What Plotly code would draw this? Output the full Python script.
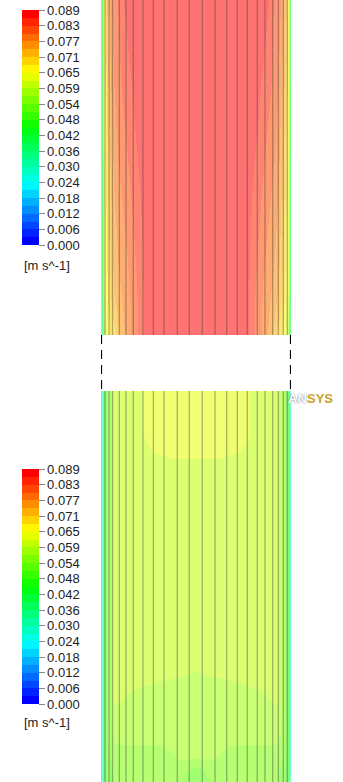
import colorsys
import plotly.graph_objects as go

# ---------------- data ----------------
VMAX = 0.0892  # legend maximum [m s^-1]
TICK_LABELS = ["0.000", "0.006", "0.012", "0.018", "0.024", "0.030", "0.036", "0.042",
               "0.048", "0.054", "0.059", "0.065", "0.071", "0.077", "0.083", "0.089"]
UNIT_LABEL = "[m s^-1]"

# normalized distance from the wall (0 = wall, 1 = pipe axis)
WALL_DIST = [0, 0.016, 0.032, 0.053, 0.074, 0.105, 0.137, 0.179, 0.232, 0.295,
             0.368, 0.453, 0.547, 0.653, 0.758, 0.874, 1.0]

# upper section: axial position (1 = top of view) and half-profiles wall -> axis
TOP_Y = [0.0, 0.134, 0.642, 1.0]
TOP_PROFILES = [
    [0.030, 0.048, 0.058, 0.064, 0.067, 0.069, 0.0705, 0.0735, 0.0765, 0.0795, 0.0825, 0.0865, 0.088, 0.0888, 0.089, 0.089, 0.089],
    [0.032, 0.052, 0.063, 0.067, 0.069, 0.072, 0.0745, 0.0765, 0.078, 0.080, 0.0828, 0.0866, 0.0882, 0.0888, 0.089, 0.089, 0.089],
    [0.034, 0.054, 0.066, 0.070, 0.0735, 0.0765, 0.0795, 0.0815, 0.083, 0.0848, 0.0868, 0.088, 0.0887, 0.089, 0.089, 0.089, 0.089],
    [0.036, 0.056, 0.067, 0.073, 0.0765, 0.080, 0.0825, 0.0835, 0.0862, 0.0878, 0.0885, 0.0888, 0.089, 0.089, 0.089, 0.089, 0.089],
]

# lower section
BOT_Y = [0.0, 0.031, 0.069, 0.120, 0.210, 0.286, 0.338, 0.453, 0.568, 0.721, 0.798, 0.862, 0.900, 1.0]
BOT_PROFILES = [
    [0.018, 0.038, 0.046, 0.050, 0.052, 0.053, 0.0535, 0.054, 0.054, 0.054, 0.054, 0.054, 0.054, 0.054, 0.0545, 0.053, 0.050],
    [0.018, 0.038, 0.046, 0.050, 0.052, 0.053, 0.054, 0.0545, 0.0545, 0.0545, 0.0545, 0.0545, 0.0545, 0.0545, 0.0555, 0.0545, 0.052],
    [0.018, 0.038, 0.046, 0.051, 0.053, 0.054, 0.0545, 0.0548, 0.0548, 0.0548, 0.0548, 0.0548, 0.0548, 0.0552, 0.0565, 0.0575, 0.0578],
    [0.018, 0.038, 0.046, 0.051, 0.054, 0.056, 0.0575, 0.058, 0.058, 0.058, 0.058, 0.058, 0.058, 0.058, 0.058, 0.058, 0.058],
    [0.018, 0.038, 0.046, 0.051, 0.054, 0.057, 0.0597, 0.0597, 0.0594, 0.059, 0.0585, 0.0583, 0.0582, 0.0581, 0.058, 0.058, 0.058],
    [0.018, 0.038, 0.046, 0.051, 0.054, 0.057, 0.0595, 0.0605, 0.061, 0.061, 0.061, 0.0607, 0.0605, 0.0602, 0.060, 0.0598, 0.0595],
    [0.018, 0.038, 0.046, 0.051, 0.054, 0.057, 0.0595, 0.0605, 0.061, 0.061, 0.061, 0.061, 0.061, 0.061, 0.061, 0.061, 0.061],
    [0.018, 0.038, 0.046, 0.051, 0.054, 0.057, 0.0595, 0.0605, 0.061, 0.061, 0.0612, 0.0613, 0.0613, 0.0613, 0.0613, 0.0613, 0.0613],
    [0.018, 0.038, 0.046, 0.051, 0.054, 0.057, 0.0595, 0.0605, 0.061, 0.061, 0.0612, 0.0615, 0.0616, 0.0616, 0.0616, 0.0616, 0.0616],
    [0.018, 0.038, 0.046, 0.051, 0.054, 0.057, 0.0595, 0.0605, 0.061, 0.061, 0.0612, 0.0615, 0.0616, 0.0616, 0.0616, 0.0616, 0.0616],
    [0.018, 0.038, 0.046, 0.051, 0.054, 0.057, 0.0595, 0.0605, 0.061, 0.061, 0.0612, 0.0615, 0.0616, 0.0617, 0.0618, 0.0618, 0.0618],
    [0.018, 0.038, 0.046, 0.051, 0.054, 0.057, 0.0595, 0.0605, 0.061, 0.061, 0.0613, 0.0622, 0.0628, 0.063, 0.0632, 0.0632, 0.0632],
    [0.018, 0.038, 0.046, 0.051, 0.054, 0.057, 0.0595, 0.0605, 0.061, 0.061, 0.0615, 0.0627, 0.0632, 0.0635, 0.0638, 0.0638, 0.0638],
    [0.018, 0.038, 0.046, 0.051, 0.054, 0.057, 0.0595, 0.0605, 0.061, 0.061, 0.0615, 0.0627, 0.0632, 0.0635, 0.0638, 0.0638, 0.0638],
]

# streamline radial positions (normalized, -1 = left wall, 1 = right wall)
STREAMLINES = [-0.958, -0.915, -0.879, -0.807, -0.737, -0.660, -0.558, -0.449, -0.337, -0.197, -0.071,
               0.066, 0.200, 0.323, 0.435, 0.540, 0.645, 0.726, 0.807, 0.867, 0.919, 0.961]

# ---------------- build ----------------
W, H = 343, 782
FONT = "Arial, Liberation Sans, sans-serif"

x_left = [-1 + d for d in WALL_DIST]
x_grid = x_left + [1 - d for d in reversed(WALL_DIST[:-1])]


def full_row(half):
    return list(half) + list(reversed(half[:-1]))


z_top = [full_row(r) for r in TOP_PROFILES]
z_bot = [full_row(r) for r in BOT_PROFILES]

NB = 30
cscale = []
for k in range(NB):
    h = (240 * (1 - k / (NB - 1))) / 360
    r, g, b = colorsys.hsv_to_rgb(h, 1, 1)
    c = f"rgb({round(r*255)},{round(g*255)},{round(b*255)})"
    cscale.append([k / NB, c])
    cscale.append([(k + 1) / NB, c])

tickvals = [i * VMAX / 15 for i in range(16)]

x_dom = [101 / W, 291 / W]
top_dom = [1 - 335 / H, 1.0]
bot_dom = [0.0, 1 - 391 / H]


def cbar(top_px):
    return dict(
        thickness=17, thicknessmode="pixels", len=235, lenmode="pixels",
        x=22 / W, xanchor="left", y=1 - top_px / H, yanchor="top",
        xpad=0, ypad=0, outlinewidth=0,
        tickmode="array", tickvals=tickvals, ticktext=TICK_LABELS,
        ticks="outside", ticklen=6, tickcolor="#888", tickwidth=1,
        tickfont=dict(family=FONT, size=13, color="#222"),
    )


OPAC = 0.55
fig = go.Figure()
fig.add_trace(go.Heatmap(
    x=x_grid, y=TOP_Y, z=z_top, zmin=0, zmax=VMAX, colorscale=cscale,
    zsmooth="best", opacity=OPAC, colorbar=cbar(10), xaxis="x", yaxis="y",
    hoverinfo="skip",
))
fig.add_trace(go.Heatmap(
    x=x_grid, y=BOT_Y, z=z_bot, zmin=0, zmax=VMAX, colorscale=cscale,
    zsmooth="best", opacity=OPAC, colorbar=cbar(469), xaxis="x2", yaxis="y2",
    hoverinfo="skip",
))

for xa, ya in (("x", "y"), ("x2", "y2")):
    xs, ys = [], []
    for s in STREAMLINES:
        xs += [s, s, None]
        ys += [0, 1, None]
    fig.add_trace(go.Scatter(
        x=xs, y=ys, mode="lines", xaxis=xa, yaxis=ya, hoverinfo="skip",
        line=dict(color="rgba(60,60,60,0.4)", width=1.3), showlegend=False,
    ))

ax = dict(visible=False, range=[-1, 1], fixedrange=True)
ay = dict(visible=False, range=[0, 1], fixedrange=True)

shapes = []
for xw in (-1, 1):
    shapes.append(dict(
        type="line", xref="x", yref="paper", x0=xw, x1=xw,
        y0=top_dom[0], y1=bot_dom[1],
        line=dict(color="black", width=2.2, dash="9px,6px"),
    ))

annotations = [
    dict(text=UNIT_LABEL, xref="paper", yref="paper", x=22 / W, y=1 - 265 / H,
         xanchor="left", yanchor="middle", showarrow=False,
         font=dict(family=FONT, size=13, color="#222")),
    dict(text=UNIT_LABEL, xref="paper", yref="paper", x=22 / W, y=1 - 722.5 / H,
         xanchor="left", yanchor="middle", showarrow=False,
         font=dict(family=FONT, size=13, color="#222")),
    dict(text="<b>AN</b>", xref="paper", yref="paper", x=286 / W, y=1 - 398 / H,
         xanchor="left", yanchor="middle", showarrow=False,
         font=dict(family=FONT, size=13, color="white", shadow="0px 0px 1.5px #555")),
    dict(text="<b>SYS</b>", xref="paper", yref="paper", x=305 / W, y=1 - 398 / H,
         xanchor="left", yanchor="middle", showarrow=False,
         font=dict(family=FONT, size=13, color="#c9a12a")),
]

fig.update_layout(
    width=W, height=H, margin=dict(l=0, r=0, t=0, b=0),
    paper_bgcolor="white", plot_bgcolor="white", showlegend=False,
    xaxis=dict(domain=x_dom, anchor="y", **ax),
    yaxis=dict(domain=top_dom, anchor="x", **ay),
    xaxis2=dict(domain=x_dom, anchor="y2", **ax),
    yaxis2=dict(domain=bot_dom, anchor="x2", **ay),
    shapes=shapes, annotations=annotations,
)

fig.write_html("out.html", config={"displayModeBar": False},
               post_script="document.body.style.margin='0px';document.body.style.overflow='hidden';")
